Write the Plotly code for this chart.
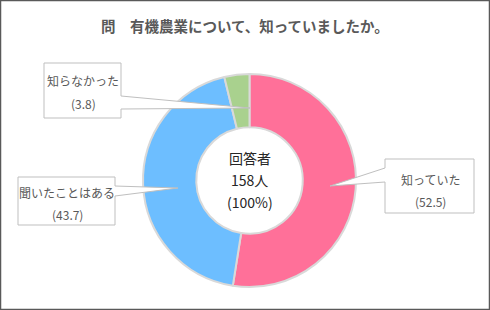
import plotly.graph_objects as go

# ---- data ----
categories = ["知っていた", "聞いたことはある", "知らなかった"]
values = [52.5, 43.7, 3.8]
colors = ["#FF7099", "#6DBEFF", "#A9D18E"]
title_text = "問　有機農業について、知っていましたか。"
center_lines = ["回答者", "158人", "(100%)"]

W, H = 490, 310
FONT = "Noto Sans CJK JP"

def px(x):
    return x / W

def py(y):
    return 1 - y / H

fig = go.Figure()
fig.add_trace(go.Pie(
    labels=categories,
    values=values,
    hole=0.5,
    sort=False,
    direction="clockwise",
    rotation=0,
    textinfo="none",
    hoverinfo="label+value",
    marker=dict(colors=colors, line=dict(color="#D9D9D9", width=2)),
    domain=dict(x=[px(143), px(356)], y=[py(287), py(74)]),
    showlegend=False,
))

shapes = []
shapes.append(dict(type="rect", xref="paper", yref="paper",
                   x0=px(0.5), x1=px(489.5), y0=py(309.5), y1=py(0.5),
                   line=dict(color="#595959", width=1.5), fillcolor="rgba(0,0,0,0)"))

def callout(points):
    d = "M " + " L ".join(f"{px(x)},{py(y)}" for x, y in points) + " Z"
    return dict(type="path", xref="paper", yref="paper", path=d,
                line=dict(color="#BFBFBF", width=1), fillcolor="white", layer="above")

shapes.append(callout([(44, 63), (121, 63), (121, 96), (250, 108), (121, 109), (121, 118), (44, 118)]))
shapes.append(callout([(18, 177), (115, 177), (115, 186), (178, 188), (115, 196), (115, 225), (18, 225)]))
shapes.append(callout([(385, 159), (474, 159), (474, 213), (385, 213), (385, 182), (330, 186), (385, 168)]))

def txt(text, x, y, size, color, bold=False):
    if bold:
        text = f"<b>{text}</b>"
    return dict(text=text, x=px(x), y=py(y), xref="paper", yref="paper",
                showarrow=False, font=dict(family=FONT, size=size, color=color),
                xanchor="center", yanchor="middle")

annotations = [txt(title_text, 245, 25, 14.5, "#595959", bold=True)]
for line, y in zip(center_lines, [158, 180, 202]):
    annotations.append(txt(line, 249.5, y, 14, "#262626"))

label_pos = [(430, 179, 201), (67, 192, 214), (83, 81, 104)]
for cat, val, (lx, ly1, ly2) in zip(categories, values, label_pos):
    annotations.append(txt(cat, lx, ly1, 12, "#595959"))
    annotations.append(txt(f"({val})", lx, ly2, 12, "#595959"))

fig.update_layout(
    width=W, height=H,
    margin=dict(l=0, r=0, t=0, b=0),
    paper_bgcolor="white", plot_bgcolor="white",
    shapes=shapes, annotations=annotations,
    font=dict(family=FONT),
)

fig.write_html("out.html")
